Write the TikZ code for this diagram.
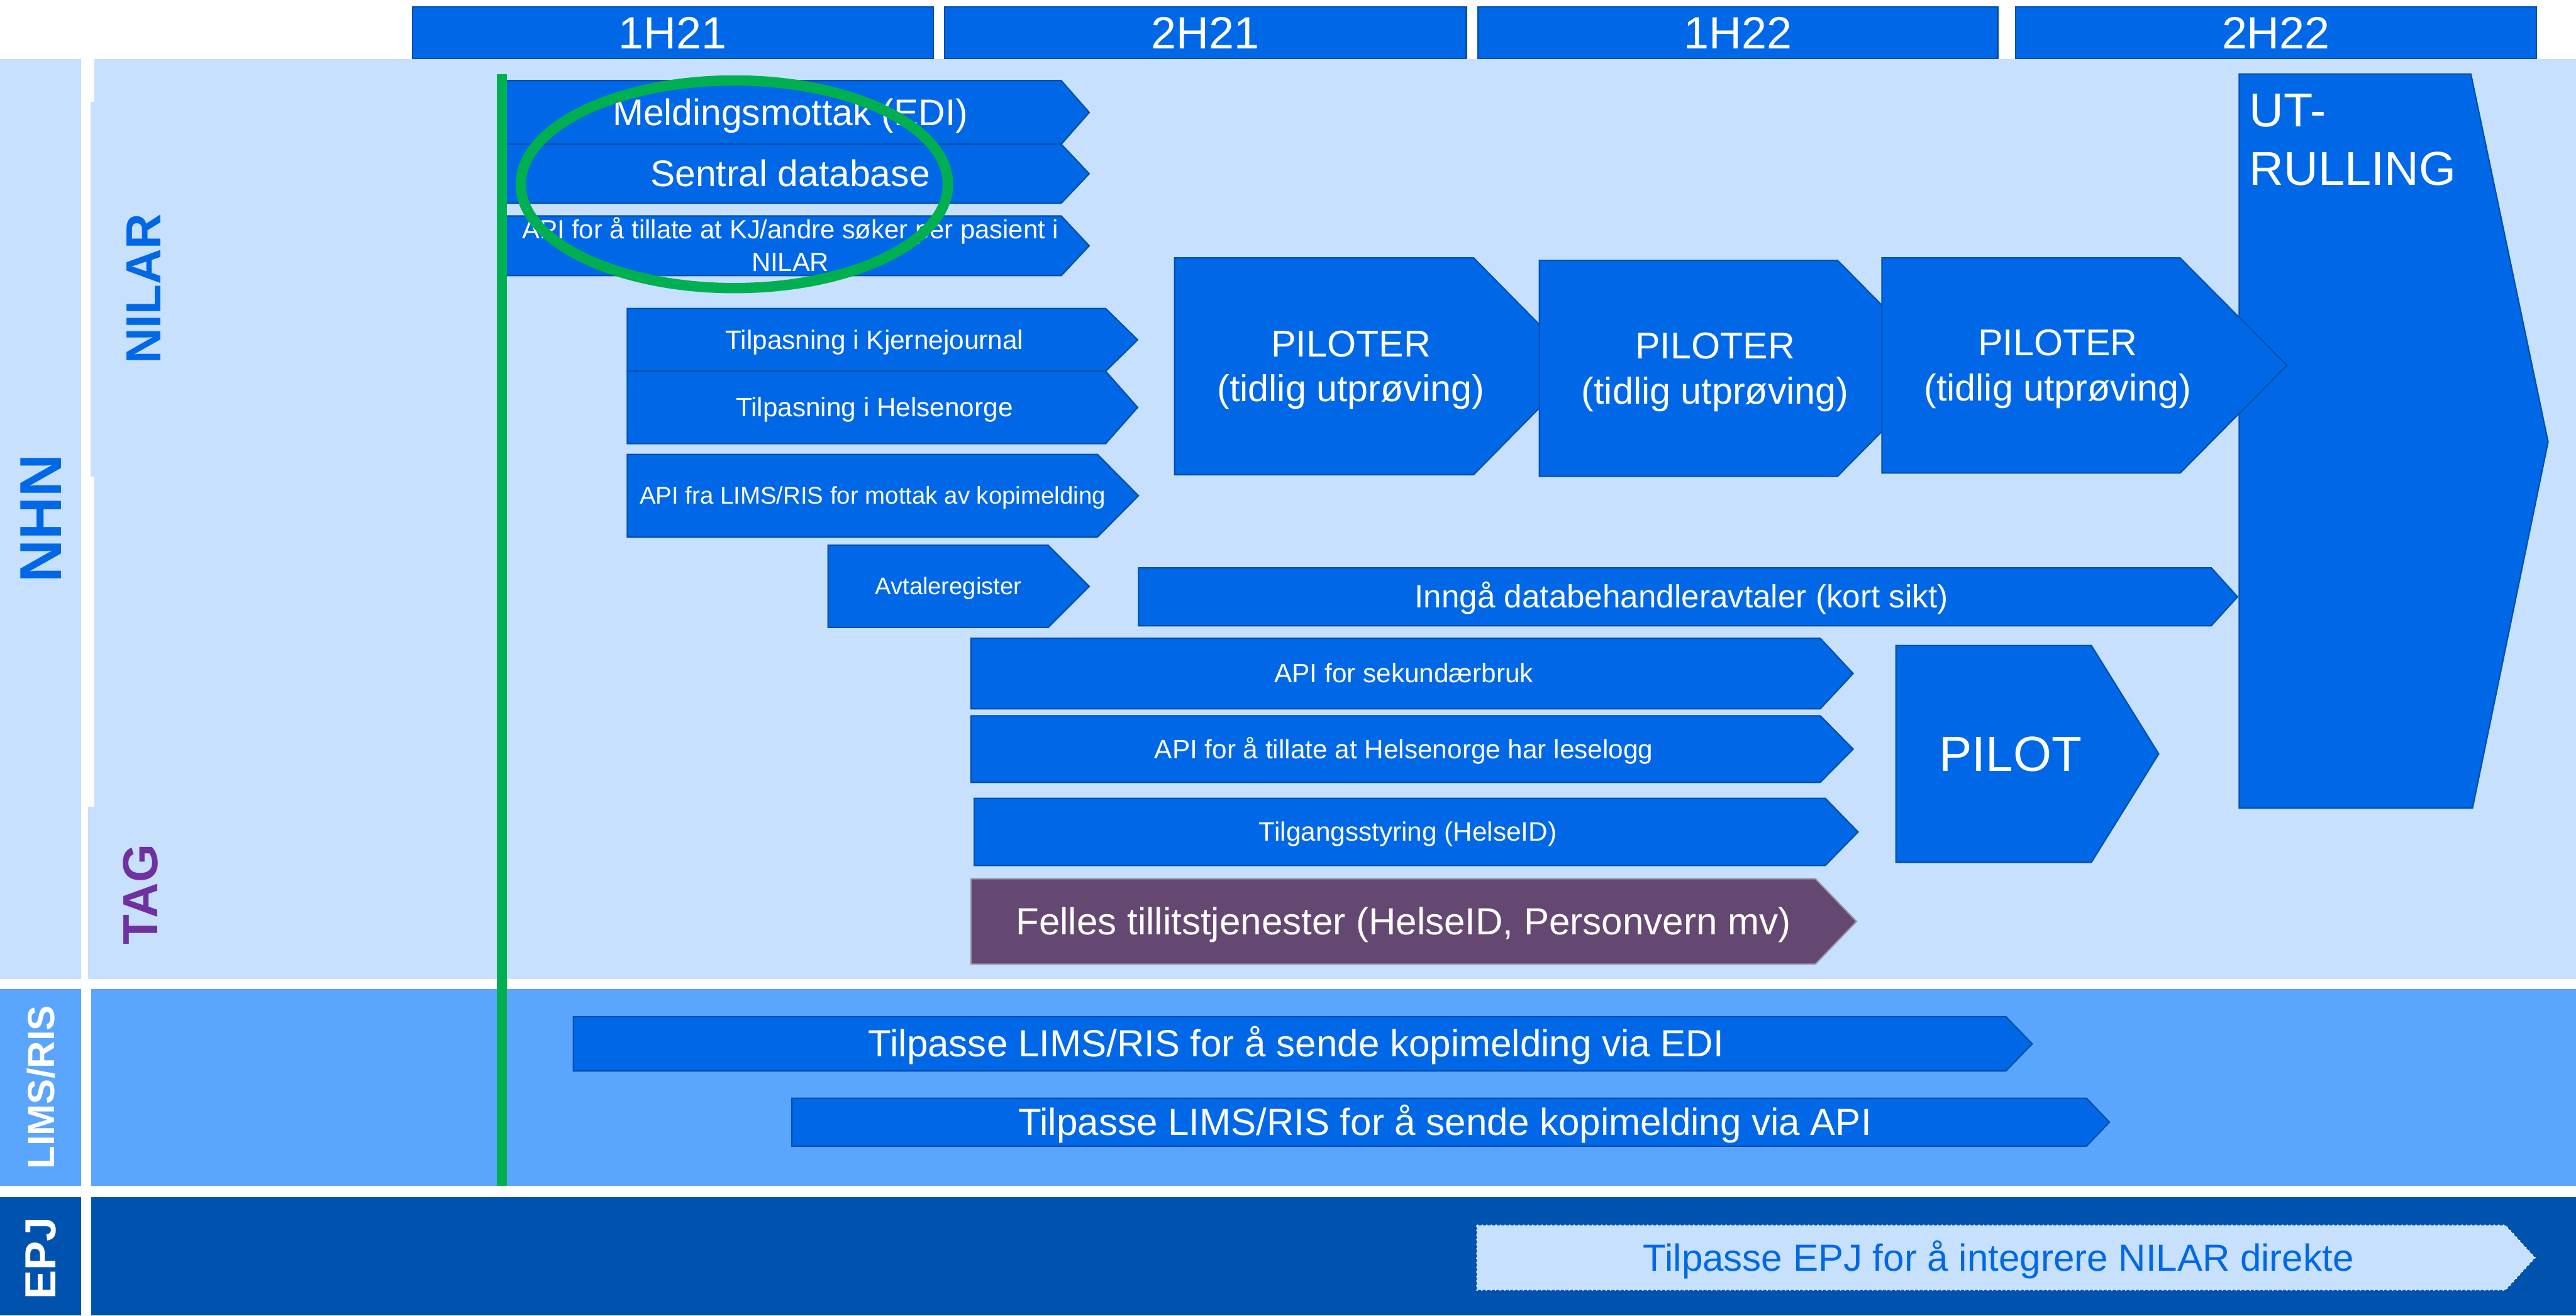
\documentclass[tikz,border=0pt]{standalone}
\usepackage{fontspec}
\setmainfont{Liberation Sans}

\definecolor{barblue}{RGB}{0,104,230}
\definecolor{baredge}{RGB}{0,78,172}
\definecolor{nhnbg}{RGB}{198,224,253}
\definecolor{limsbg}{RGB}{90,165,254}
\definecolor{epjbg}{RGB}{0,82,175}
\definecolor{ringgreen}{RGB}{0,176,80}
\definecolor{tagpurple}{RGB}{112,48,160}
\definecolor{fellespurple}{RGB}{101,72,114}
\definecolor{fellesedge}{RGB}{150,150,162}

\newcommand{\ppstrut}{\rule[-.212em]{0pt}{1.117em}}
\newcommand{\fs}[2]{\fontsize{#1}{#2}\selectfont}

\tikzset{
  chevron/.style={fill=barblue,draw=baredge,line width=0.8pt,line join=miter},
  chevtext/.style={text=white,inner sep=0pt,align=center,
    execute at begin node=\ppstrut,execute at end node=\ppstrut},
  halfyear/.style={fill=barblue,draw=baredge,line width=0.8pt,text=white,
    inner sep=0pt,minimum height=31.4pt,font=\fs{27.5}{33},
    execute at begin node=\ppstrut},
  lanelabel/.style={inner sep=0pt,rotate=90},
}

% [node opts]{shape opts}{name}{x left}{x body end}{x tip}{y top}{y bottom}{text}
\newcommand{\chev}[9][]{%
  \draw[chevron,#2] (#4,#7) -- (#5,#7) -- (#6,{(#7+#8)/2}) -- (#5,#8) -- (#4,#8) -- cycle;
  \node[chevtext,#1] (#3) at ({#4/2+#5/4+#6/4},{(#7+#8)/2}) {#9};
}

\begin{document}
\begin{tikzpicture}[x=1pt,y=-1pt]
\useasboundingbox (0,0) rectangle (1568,801);
\fill[white] (0,0) rectangle (1568,801);

% lanes
\fill[nhnbg] (0,36) rectangle (1568,596);
\fill[limsbg] (0,602) rectangle (1568,722);
\fill[epjbg] (0,729) rectangle (1568,801);
\fill[white] (49.5,36) rectangle (57.5,62);
\fill[white] (49.5,62) rectangle (55,290);
\fill[white] (49.5,290) rectangle (57.5,491);
\fill[white] (49.5,491) rectangle (53.5,596);
\fill[white] (49.2,602) rectangle (55.4,722);
\fill[white] (49.2,729) rectangle (55.4,801);

\node[lanelabel,text=barblue,font=\fs{36}{40}\bfseries] (nhn) at (25.1,315.7) {NHN};
\node[lanelabel,text=barblue,font=\fs{30}{34}\bfseries] (nilar) at (87.3,175.8) {NILAR};
\node[lanelabel,text=tagpurple,font=\fs{30}{34}\bfseries] (tag) at (85.7,544.6) {TAG};
\node[lanelabel,text=white,font=\fs{23}{27}\bfseries] (limsris) at (24.9,662) {LIMS/RIS};
\node[lanelabel,text=white,font=\fs{26.5}{30}\bfseries] (epj) at (24.9,766) {EPJ};

% half years
\node[halfyear,minimum width=317pt] (h121) at (409.5,20) {1H21};
\node[halfyear,minimum width=317.5pt] (h221) at (733.75,20) {2H21};
\node[halfyear,minimum width=316.5pt] (h122) at (1057.75,20) {1H22};
\node[halfyear,minimum width=316.7pt] (h222) at (1385.35,20) {2H22};

% NILAR
\chev[font=\fs{22.5}{27}]{}{meld}{307.6}{646}{663}{49.1}{87.8}{Meldingsmottak (EDI)}
\chev[font=\fs{22.5}{27}]{}{sentral}{307.6}{646}{663}{87.8}{123.7}{Sentral database}
\chev[font=\fs{16}{19.8}]{}{apikj}{307.6}{646}{663}{131.5}{167.8}{\ppstrut API for å tillate at KJ/andre søker per pasient i\\NILAR\ppstrut}
\chev[font=\fs{16.2}{19.4}]{}{kjerne}{381.8}{673}{692.5}{187.8}{226}{Tilpasning i Kjernejournal}
\chev[font=\fs{16.2}{19.4}]{}{helse}{381.8}{673}{692.5}{226}{270.1}{Tilpasning i Helsenorge}
\chev[font=\fs{14.7}{17.6}]{}{apilims}{381.8}{668}{693}{276.6}{327}{API fra LIMS/RIS for mottak av kopimelding}
\chev[font=\fs{14.6}{17.5}]{}{avtale}{504}{638}{663}{332}{382}{Avtaleregister}
\chev[font=\fs{19.6}{23.5}]{}{inngaa}{693}{1346}{1362}{345.7}{381}{Inngå databehandleravtaler (kort sikt)}
\chev[font=\fs{16.2}{19.4}]{}{apisek}{591}{1108}{1128}{388.6}{431.5}{API for sekundærbruk}
\chev[font=\fs{16.2}{19.4}]{}{apilogg}{591}{1108}{1128}{435.8}{476.3}{API for å tillate at Helsenorge har leselogg}
\chev[font=\fs{16.2}{19.4}]{}{tilgang}{593}{1111}{1131}{486}{527}{Tilgangsstyring (HelseID)}
\chev[font=\fs{23}{27.6}]{fill=fellespurple,draw=fellesedge}{felles}{591}{1105}{1130}{535}{587}{Felles tillitstjenester (HelseID, Personvern mv)}
\chev[font=\fs{30}{36}]{}{pilot}{1154}{1273}{1314}{393}{525}{PILOT}

% pilots and roll-out
\chev[font=\fs{22.7}{27.4}]{}{piloter1}{715}{897}{962}{157}{289}{\ppstrut PILOTER\\(tidlig utprøving)\ppstrut}
\chev[font=\fs{22.7}{27.4}]{}{piloter2}{937}{1118.5}{1183.5}{158.5}{290}{\ppstrut PILOTER\\(tidlig utprøving)\ppstrut}
\draw[chevron] (1363,45) -- (1504,45) -- (1551,269) -- (1505,492) -- (1363,492) -- cycle;
\node[chevtext,align=left,anchor=north west,font=\fs{29}{35.4}] (utrull) at (1369,50.8) {\ppstrut UT-\\RULLING};
\chev[font=\fs{22.7}{27.4}]{}{piloter3}{1145.5}{1327}{1392}{157}{288}{\ppstrut PILOTER\\(tidlig utprøving)\ppstrut}

% LIMS/RIS and EPJ
\chev[font=\fs{23}{27.6}]{}{limsedi}{349}{1221}{1237}{619}{652}{Tilpasse LIMS/RIS for å sende kopimelding via EDI}
\chev[font=\fs{23}{27.6}]{}{limsapi}{482}{1270}{1284}{668.6}{697.8}{Tilpasse LIMS/RIS for å sende kopimelding via API}
\chev[font=\fs{23}{27.6},text=barblue]{fill=nhnbg,draw=white,dotted}{epjtask}{899}{1525}{1543}{746}{785.4}{Tilpasse EPJ for å integrere NILAR direkte}

% today line and ring
\coordinate (today top) at (305.5,45.2);
\coordinate (today bottom) at (305.5,722);
\draw[ringgreen,line width=6.3pt] (today top) -- (today bottom);
\draw[ringgreen,line width=6.3pt] (447,112.2) ellipse [x radius=130,y radius=63.2];
\end{tikzpicture}
\end{document}
